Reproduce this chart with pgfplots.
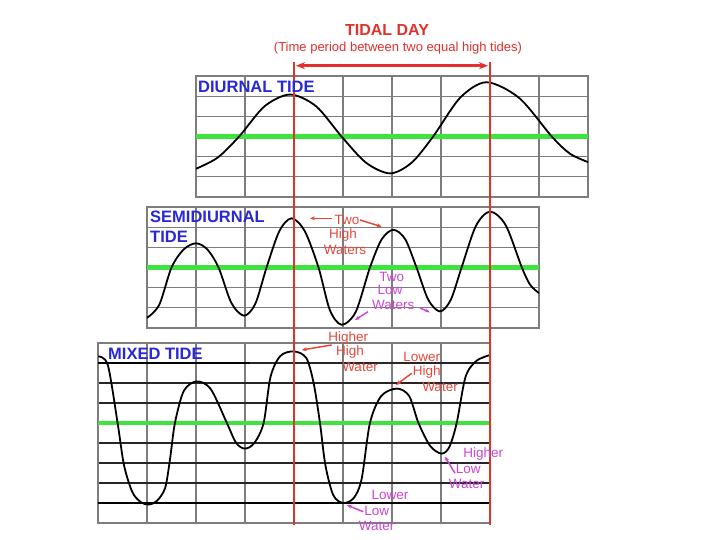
\documentclass[border=0pt]{standalone}
\usepackage{fontspec}
\setmainfont{Liberation Sans}
\usepackage{pgfplots}
\pgfplotsset{compat=1.18}
\usetikzlibrary{arrows.meta}
\definecolor{tidered}{RGB}{226,48,42}
\definecolor{tidegreen}{RGB}{62,228,62}
\definecolor{tideblue}{RGB}{40,40,215}
\definecolor{tidemag}{RGB}{200,70,210}
\definecolor{anred}{RGB}{228,72,58}
\definecolor{gridgray}{RGB}{125,125,125}
\pgfplotsset{
  tidepanel/.style={
    scale only axis, width=392bp, xmin=0, xmax=8,
    xtick={0,...,8}, xticklabels={}, yticklabels={},
    major tick length=0pt, grid=major,
    major grid style={gridgray, line width=1.3bp},
    axis line style={gridgray, line width=1.5bp},
    anchor=south west,
  },
  curve/.style={black, line width=1.8bp, smooth},
  mean/.style={tidegreen, line width=4.5bp},
}
\begin{document}
\begin{tikzpicture}[x=1bp,y=1bp]
\path[use as bounding box] (0,0) rectangle (720,540);

% Diurnal
\begin{axis}[tidepanel, at={(196bp,343bp)}, height=121bp, ymin=-3, ymax=3, ytick={-3,...,3}]
\addplot[mean] coordinates {(0,0) (8,0)};
\addplot[curve] coordinates {
(0,-1.6) (0.44,-1.05) (0.88,0) (1.4,1.5) (1.92,2.08) (2.45,1.5) (2.97,0)
(3.47,-1.3) (3.96,-1.83) (4.4,-1.3) (4.84,0) (5.39,1.92) (5.93,2.69)
(6.6,1.9) (7.26,0) (7.63,-0.85) (8,-1.27)};
\end{axis}

% Semidiurnal
\begin{axis}[tidepanel, at={(147bp,212bp)}, height=121bp, ymin=-3, ymax=3, ytick={-3,...,3}]
\addplot[mean] coordinates {(0,0) (8,0)};
\addplot[curve] coordinates {
(0,-2.5) (0.25,-1.85) (0.5,0) (0.75,0.9) (1.0,1.2) (1.23,0.9) (1.46,0)
(1.72,-1.75) (1.98,-2.39) (2.21,-1.8) (2.44,0) (2.7,1.8) (2.95,2.44)
(3.22,1.8) (3.5,0) (3.73,-2.1) (3.97,-2.84) (4.26,-2.2) (4.55,0) (4.79,1.4)
(5.03,1.87) (5.27,1.4) (5.5,0) (5.74,-1.6) (5.98,-2.18) (6.2,-1.6) (6.42,0)
(6.71,2.05) (7.0,2.77) (7.32,2.1) (7.65,0) (7.82,-0.86) (8,-1.27)};
\end{axis}

% Mixed
\begin{axis}[tidepanel, at={(98bp,17bp)}, height=180bp, ymin=-5, ymax=4, ytick={-5,...,4},
  y grid style={black!85, line width=1.3bp}]
\addplot[black, line width=2.6bp] coordinates {(0,3) (3.1,3)};
\addplot[black, line width=2.6bp] coordinates {(0,-4) (8,-4)};
\addplot[mean] coordinates {(0,0) (8,0)};
\addplot[curve] coordinates {
(0,3.33) (0.2,2.9) (0.4,0) (0.53,-2.1) (0.7,-3.45) (0.87,-3.95) (1.03,-4.08)
(1.2,-3.9) (1.37,-3.25) (1.47,-1.8) (1.57,0) (1.75,1.6) (2.01,2.08)
(2.3,1.7) (2.63,0) (2.82,-1.0) (3.0,-1.28) (3.19,-1.0) (3.38,0) (3.52,2.3)
(3.72,3.35) (4.0,3.58) (4.25,3.25) (4.4,2.0) (4.53,0) (4.64,-2.1) (4.8,-3.6)
(5.0,-4.0) (5.22,-3.75) (5.38,-2.8) (5.55,0) (5.78,1.35) (6.1,1.72)
(6.35,1.35) (6.54,0) (6.78,-1.15) (7.01,-1.53) (7.17,-1.2) (7.32,0)
(7.5,2.3) (7.72,3.1) (8,3.4)};
\end{axis}

% red tidal-day markers
\draw[tidered, line width=2.8bp] (294,478) -- (294,15);
\draw[tidered, line width=2.8bp] (490,478) -- (490,15);
\draw[tidered, line width=2.6bp, {Stealth[length=9bp,width=7bp]}-{Stealth[length=9bp,width=7bp]}] (296,474.3) -- (488,474.3);

\node[tidered, font=\bfseries\fontsize{16bp}{16bp}\selectfont] at (387,510) {TIDAL DAY};
\node[tidered, font=\fontsize{13bp}{13bp}\selectfont] at (398,492) {(Time period between two equal high tides)};

% panel labels
\begin{scope}[every node/.style={anchor=west, tideblue, inner sep=0pt, font=\bfseries\fontsize{16.5bp}{16.5bp}\selectfont}]
\node at (198,453) {DIURNAL TIDE};
\node at (150,323.3) {SEMIDIURNAL};
\node at (150,303.3) {TIDE};
\node at (108,186) {MIXED TIDE};
\end{scope}

% annotations
\begin{scope}[every node/.style={inner sep=0pt, font=\fontsize{13.5bp}{13.5bp}\selectfont}]
\node[anred] at (347,320) {Two};
\node[anred] at (343,305) {High};
\node[anred] at (345,290) {Waters};
\node[tidemag] at (391.7,263.3) {Two};
\node[tidemag] at (390,250) {Low};
\node[tidemag] at (393.3,235) {Waters};
\node[anred] at (348.3,202.3) {Higher};
\node[anred] at (350,188.3) {High};
\node[anred] at (360,173.3) {Water};
\node[anred] at (421.7,183.3) {Lower};
\node[anred] at (426.7,168.3) {High};
\node[anred] at (440,153.3) {Water};
\node[tidemag] at (483.3,86) {Higher};
\node[tidemag] at (468.3,70.7) {Low};
\node[tidemag] at (466.7,55.7) {Water};
\node[tidemag] at (390,45) {Lower};
\node[tidemag] at (376.7,29.3) {Low};
\node[tidemag] at (376.7,14) {Water};
\end{scope}
\begin{scope}[line width=1.5bp, -{Stealth[length=5bp,width=4bp]}]
\draw[anred] (331.7,321.7) -- (310,321.7);
\draw[anred] (360,320) -- (381.7,313.3);
\draw[tidemag] (368,228.3) -- (355,220);
\draw[tidemag] (420,232) -- (430,227.7);
\draw[anred] (331.7,195) -- (301.7,190);
\draw[anred] (411.7,166.7) -- (396,155);
\draw[tidemag] (455,66.7) -- (445,83.3);
\draw[tidemag] (363.3,28.3) -- (346.7,35);
\end{scope}
\end{tikzpicture}
\end{document}
